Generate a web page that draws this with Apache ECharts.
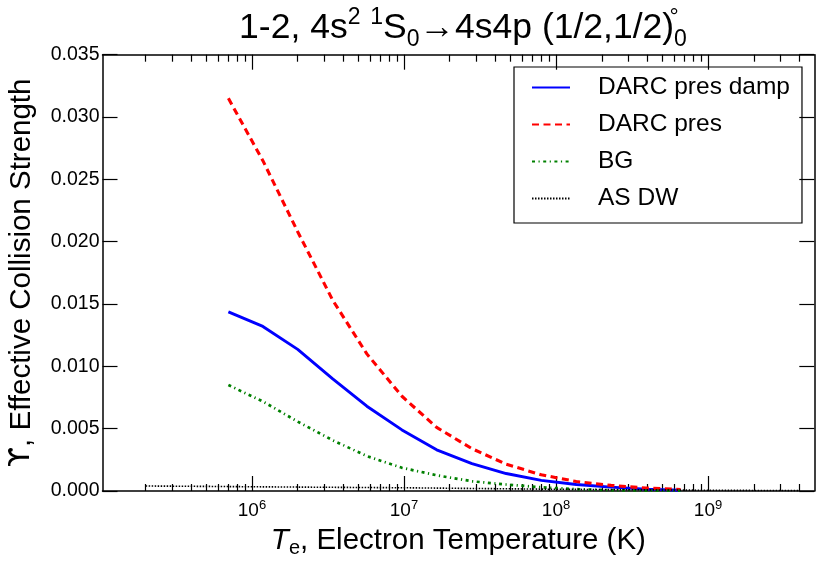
<!DOCTYPE html>
<html>
<head>
<meta charset="utf-8">
<script src="https://cdn.jsdelivr.net/npm/echarts@6/dist/echarts.min.js"></script>
<style>
html,body{margin:0;padding:0;background:#fff;}
#chart{width:830px;height:567px;}
</style>
</head>
<body>
<div id="chart"></div>
<script>
// temperatures (K) of the R-matrix curves
var temps = [7.0e5, 1.18e6, 2.0e6, 3.4e6, 5.7e6, 9.7e6, 1.64e7, 2.8e7, 4.7e7, 8.0e7, 1.36e8, 2.3e8, 3.9e8, 6.6e8];
var darcPresDamp = [0.01437, 0.0132, 0.01136, 0.0090, 0.0068, 0.0049, 0.0033, 0.0022, 0.0014, 0.00085, 0.00052, 0.00031, 0.00015, 0.00006];
var darcPres = [0.0315, 0.0265, 0.0208, 0.0153, 0.0110, 0.0076, 0.0051, 0.0034, 0.00215, 0.0013, 0.00076, 0.00045, 0.00024, 0.00012];
var bgVals = [0.0085, 0.00718, 0.00557, 0.00407, 0.0028, 0.00186, 0.00126, 0.00078, 0.00052, 0.0003, 0.00015, 0.00006, 0.00003, 0.00002];
// distorted wave curve has its own grid
var asTemps = [2e5, 5e5, 1e6, 3e6, 1e7, 3e7, 1e8, 3e8, 1e9, 4e9];
var asDw = [0.00040, 0.00037, 0.00034, 0.00030, 0.00026, 0.00020, 0.00014, 0.00010, 0.00006, 0.00003];

var xMin = 1.04e5, xMax = 5e9;
var xMajor = [1e6, 1e7, 1e8, 1e9];
var xMinorMult = [2, 3, 4, 5, 6, 7, 8, 9];
var xDecades = [1e5, 1e6, 1e7, 1e8, 1e9];
var yMin = 0, yMax = 0.035, yStep = 0.005;

var seriesNames = ['DARC pres damp', 'DARC pres', 'BG', 'AS DW'];

function lg(v){ return Math.log10(v); }
function pairs(xs, ys){
	return xs.map(function(x, i){ return [lg(x), ys[i]]; });
}

var xMinor = [];
xDecades.forEach(function(d){
	xMinorMult.forEach(function(m){
		if (d * m > xMin && d * m < xMax) xMinor.push(lg(d * m));
	});
});
var xMajorLog = xMajor.map(lg);

var font = 'Liberation Sans, Arial, Helvetica, sans-serif';

function xAxisBase(pos, ticks, len, showLine){
	return {
		type: 'value',
		position: pos,
		min: lg(xMin),
		max: lg(xMax),
		axisLine: { show: showLine, onZero: false, lineStyle: { color: '#000', width: 1.5 } },
		axisTick: { show: true, inside: true, length: len, customValues: ticks, lineStyle: { color: '#000', width: 1.2 } },
		axisLabel: { show: false },
		splitLine: { show: false }
	};
}

var bottomMajor = xAxisBase('bottom', xMajorLog, 15, true);
bottomMajor.axisLabel = {
	show: true,
	customValues: xMajorLog,
	margin: 8,
	color: '#000',
	fontFamily: font,
	formatter: function(v){ return '{b|10}{s|' + Math.round(v) + '}'; },
	rich: {
		b: { fontSize: 19, lineHeight: 24, fontFamily: font, color: '#000' },
		s: { fontSize: 13, lineHeight: 13, verticalAlign: 'top', fontFamily: font, color: '#000' }
	}
};
bottomMajor.name = '{i|T}{sub|e}{n|, Electron Temperature (K)}';
bottomMajor.nameLocation = 'middle';
bottomMajor.nameGap = 27;
bottomMajor.nameTextStyle = {
	color: '#000',
	rich: {
		i: { fontSize: 29.5, fontStyle: 'italic', fontFamily: font, lineHeight: 36, color: '#000' },
		sub: { fontSize: 20, fontFamily: font, lineHeight: 22, verticalAlign: 'bottom', color: '#000' },
		n: { fontSize: 29.5, fontFamily: font, lineHeight: 36, color: '#000' }
	}
};

var option = {
	animation: false,
	backgroundColor: '#fff',
	title: {
		left: 458,
		top: 1,
		textAlign: 'center',
		text: '{n|1-2, 4s}{sup|2}{n| }{sup|1}{n|S}{sub|0}{n|→4s4p (1/2,1/2)}{o|°}{sub|0}',
		textStyle: {
			fontWeight: 'normal',
			rich: {
				n: { fontSize: 35.5, fontWeight: 'normal', fontFamily: font, lineHeight: 45, color: '#000' },
				sup: { fontSize: 23, fontWeight: 'normal', fontFamily: font, lineHeight: 27, verticalAlign: 'top', color: '#000' },
				o: { fontSize: 23, fontWeight: 'normal', fontFamily: font, lineHeight: 27, verticalAlign: 'top', width: 0, color: '#000' },
				sub: { fontSize: 23, fontWeight: 'normal', fontFamily: font, lineHeight: 19, verticalAlign: 'bottom', color: '#000' }
			}
		}
	},
	legend: {
		orient: 'vertical',
		left: 514,
		top: 67,
		data: seriesNames,
		itemWidth: 38,
		itemHeight: 14,
		itemGap: 12,
		padding: [8, 12, 12, 17],
		borderColor: '#000',
		borderWidth: 1.2,
		itemStyle: { opacity: 0 },
		textStyle: { fontSize: 24.5, fontFamily: font, color: '#000', padding: [0, 0, 0, 23] }
	},
	grid: {
		left: 102.5,
		right: 15.7,
		top: 54.7,
		bottom: 76,
		outerBoundsMode: 'none',
		containLabel: false
	},
	xAxis: [
		bottomMajor,
		xAxisBase('bottom', xMinor, 7, false),
		xAxisBase('top', xMajorLog, 15, true),
		xAxisBase('top', xMinor, 7, false)
	],
	yAxis: [
		{
			type: 'value',
			position: 'left',
			min: yMin,
			max: yMax,
			interval: yStep,
			axisLine: { show: true, onZero: false, lineStyle: { color: '#000', width: 1.5 } },
			axisTick: { inside: true, length: 15, lineStyle: { color: '#000', width: 1.2 } },
			axisLabel: {
				margin: 3,
				color: '#000',
				fontSize: 19.5,
				fontFamily: font,
				formatter: function(v){ return v.toFixed(3); }
			},
			splitLine: { show: false },
			name: '{g|ϒ}{n|, Effective Collision Strength}',
			nameLocation: 'middle',
			nameGap: 66,
			nameTextStyle: {
				color: '#000',
				rich: {
					g: { fontSize: 29, fontFamily: 'DejaVu Sans', color: '#000' },
					n: { fontSize: 29.5, fontFamily: font, color: '#000' }
				}
			}
		},
		{
			type: 'value',
			position: 'right',
			min: yMin,
			max: yMax,
			interval: yStep,
			axisLine: { show: true, onZero: false, lineStyle: { color: '#000', width: 1.5 } },
			axisTick: { inside: true, length: 15, lineStyle: { color: '#000', width: 1.2 } },
			axisLabel: { show: false },
			splitLine: { show: false }
		}
	],
	series: [
		{
			name: seriesNames[0], type: 'line', symbol: 'none',
			data: pairs(temps, darcPresDamp),
			lineStyle: { color: '#0000ff', width: 2.9, type: 'solid' },
			itemStyle: { color: '#0000ff' }
		},
		{
			name: seriesNames[1], type: 'line', symbol: 'none',
			data: pairs(temps, darcPres),
			lineStyle: { color: '#ff0000', width: 3.1, type: [7, 4.5] },
			itemStyle: { color: '#ff0000' }
		},
		{
			name: seriesNames[2], type: 'line', symbol: 'none',
			data: pairs(temps, bgVals),
			lineStyle: { color: '#008000', width: 2.7, type: [3, 3.5, 1.2, 3.5] },
			itemStyle: { color: '#008000' }
		},
		{
			name: seriesNames[3], type: 'line', symbol: 'none',
			data: pairs(asTemps, asDw),
			lineStyle: { color: '#000', width: 1.6, type: [1.5, 1.5] },
			itemStyle: { color: '#000' }
		}
	]
};

var chart = echarts.init(document.getElementById('chart'));
chart.setOption(option);
</script>
</body>
</html>
